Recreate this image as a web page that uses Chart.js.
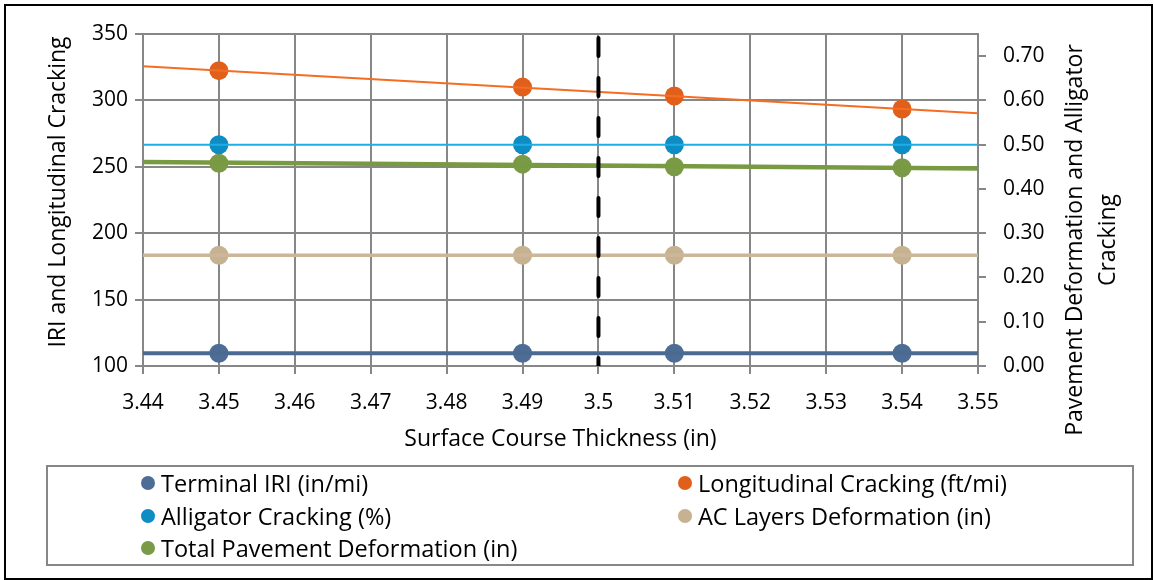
<!DOCTYPE html>
<html>
<head>
<meta charset="utf-8">
<script src="https://cdn.jsdelivr.net/npm/chart.js@4/dist/chart.umd.min.js"></script>
<style>
  html, body { margin: 0; padding: 0; background: #fff; }
  #wrap { position: relative; width: 1154px; height: 580px; overflow: hidden; font-family: "Open Sans", Lato, sans-serif; }
  #frame { position: absolute; left: 4px; top: 4px; width: 1145px; height: 572px; border: 2px solid #000; box-sizing: content-box; pointer-events: none; }
  #chart { position: absolute; left: 0; top: 0; }
  #legend { position: absolute; left: 46px; top: 465px; width: 1084px; height: 97px; border: 2px solid #878787; box-sizing: content-box; }
  .item { position: absolute; display: flex; align-items: center; height: 24px; font-size: 23.5px; color: #000; white-space: nowrap; line-height: 24px; }
  .dot { width: 14px; height: 14px; border-radius: 50%; margin-right: 6px; flex: none; }
</style>
</head>
<body>
<div id="wrap">
  <canvas id="chart" width="1154" height="580"></canvas>
  <div id="legend"></div>
  <div id="frame"></div>
</div>
<script>
// Surface course thickness (in) at which each run was made
const thickness = [3.45, 3.49, 3.51, 3.54];

// Predicted distresses per run
const terminalIRI = [109.6, 109.6, 109.6, 109.6];          // in/mi (left axis)
const longitudinalCracking = [322.4, 310.0, 303.3, 293.5]; // ft/mi (left axis)
const alligatorCracking = [0.50, 0.50, 0.50, 0.50];        // % (right axis)
const acLayersDeformation = [0.25, 0.25, 0.25, 0.25];      // in (right axis)
const totalDeformation = [0.458, 0.456, 0.450, 0.448];     // in (right axis)

// Linear trend lines, evaluated at the ends of the thickness axis
const trendX = [3.44, 3.55];
const iriTrend = [109.6, 109.6];
const longitudinalTrend = [325.8, 290.4];
const alligatorTrend = [0.50, 0.50];
const acTrend = [0.25, 0.25];
const totalTrend = [0.461, 0.446];

// Design thickness marker
const designThickness = 3.5;
const designMarkerRange = [347, 100];

// Axis settings
const xTicks = { min: 3.44, max: 3.55, step: 0.01 };
const leftTicks = { min: 100, max: 350, step: 50 };
const rightTicks = { min: 0, max: 0.75, step: 0.1 };

const seriesNames = [
  'Terminal IRI (in/mi)',
  'Longitudinal Cracking (ft/mi)',
  'Alligator Cracking (%)',
  'AC Layers Deformation (in)',
  'Total Pavement Deformation (in)'
];
const markerColors = ['#4E6D94', '#E0601B', '#0E8CC4', '#C6B291', '#7B9A48'];
const trendColors  = ['#4B6A91', '#F56D22', '#1DAEE6', '#CBB798', '#789A41'];
const trendWidths  = [4, 2, 2, 3.5, 4.5];

const pts = (xs, ys) => xs.map((x, i) => ({ x: x, y: ys[i] }));

const seriesValues = [terminalIRI, longitudinalCracking, alligatorCracking, acLayersDeformation, totalDeformation];
const trendValues = [iriTrend, longitudinalTrend, alligatorTrend, acTrend, totalTrend];
const seriesAxis = ['y', 'y', 'y2', 'y2', 'y2'];

const datasets = [];
// vertical dashed line at the design thickness (drawn on top)
datasets.push({
  label: 'design',
  data: pts([designThickness, designThickness], designMarkerRange),
  yAxisID: 'y',
  showLine: true,
  borderColor: '#000',
  borderWidth: 4,
  borderDash: [18, 22],
  borderCapStyle: 'round',
  pointRadius: 0,
  order: 0
});
seriesNames.forEach((name, i) => {
  datasets.push({
    label: name + ' trend',
    data: pts(trendX, trendValues[i]),
    yAxisID: seriesAxis[i],
    showLine: true,
    borderColor: trendColors[i],
    borderWidth: trendWidths[i],
    pointRadius: 0,
    order: 1 + i
  });
});
seriesNames.forEach((name, i) => {
  datasets.push({
    label: name,
    data: pts(thickness, seriesValues[i]),
    yAxisID: seriesAxis[i],
    showLine: false,
    backgroundColor: markerColors[i],
    borderWidth: 0,
    pointRadius: 9.5,
    pointHoverRadius: 9.5,
    order: 10 + i
  });
});

const FONT = '"Open Sans"';
const TICK_SIZE = 21;
const TITLE_SIZE = 23;
const gridColor = '#878787';

// Axis titles drawn by hand so the right one reads bottom-to-top
const axisTitles = {
  id: 'axisTitles',
  afterDraw(chart) {
    const ctx = chart.ctx;
    const a = chart.chartArea;
    ctx.save();
    ctx.fillStyle = '#000';
    ctx.font = TITLE_SIZE + 'px ' + FONT;
    ctx.textAlign = 'center';
    ctx.textBaseline = 'middle';
    ctx.fillText('Surface Course Thickness (in)', (a.left + a.right) / 2, 439);

    ctx.save();
    ctx.translate(58, 192);
    ctx.rotate(-Math.PI / 2);
    ctx.fillText('IRI and Longitudinal Cracking', 0, 0);
    ctx.restore();

    ctx.save();
    ctx.translate(1075, 240);
    ctx.rotate(-Math.PI / 2);
    ctx.fillText('Pavement Deformation and Alligator', 0, 0);
    ctx.fillText('Cracking', 0, 33);
    ctx.restore();
    ctx.restore();
  }
};

// keep the vertical scales from reserving extra space above/below the plot
const trimVerticalPadding = s => { s.paddingTop = 10; s.paddingBottom = 10; };

const chart = new Chart(document.getElementById('chart'), {
  type: 'scatter',
  data: { datasets: datasets },
  options: {
    responsive: false,
    animation: false,
    devicePixelRatio: 1,
    layout: { padding: { top: 34, left: 0, right: 0, bottom: 0 } },
    plugins: { legend: { display: false }, tooltip: { enabled: false } },
    scales: {
      x: {
        type: 'linear',
        position: 'bottom',
        min: xTicks.min, max: xTicks.max,
        ticks: {
          stepSize: xTicks.step,
          color: '#000',
          font: { family: FONT, size: TICK_SIZE },
          padding: 16,
          callback: v => String(Number(v.toFixed(2)))
        },
        grid: { color: gridColor, lineWidth: 2, tickLength: 8, drawTicks: true },
        border: { color: gridColor, width: 2 },
        afterFit(s) { s.height = 214; }
      },
      y: {
        type: 'linear',
        position: 'left',
        min: leftTicks.min, max: leftTicks.max,
        ticks: {
          stepSize: leftTicks.step,
          color: '#000',
          font: { family: FONT, size: TICK_SIZE },
          padding: 7
        },
        grid: { color: gridColor, lineWidth: 2, tickLength: 8 },
        border: { color: gridColor, width: 2 },
        afterFit(s) { s.width = 143; trimVerticalPadding(s); }
      },
      y2: {
        type: 'linear',
        position: 'right',
        min: rightTicks.min, max: rightTicks.max,
        ticks: {
          stepSize: rightTicks.step,
          includeBounds: false,
          color: '#000',
          font: { family: FONT, size: TICK_SIZE },
          padding: 17,
          callback: v => v.toFixed(2)
        },
        afterBuildTicks(s) { s.ticks = s.ticks.filter(t => t.value <= 0.7 + 1e-9); },
        grid: { drawOnChartArea: false, color: gridColor, lineWidth: 2, tickLength: 8 },
        border: { color: gridColor, width: 2 },
        afterFit(s) { s.width = 176; trimVerticalPadding(s); }
      }
    }
  },
  plugins: [axisTitles]
});

// Legend: series markers laid out row by row in two columns
const legend = document.getElementById('legend');
const colLeft = [93, 630];
const rowCenter = [16, 49, 81];
seriesNames.forEach((name, i) => {
  const el = document.createElement('div');
  el.className = 'item';
  el.style.left = colLeft[i % 2] + 'px';
  el.style.top = (rowCenter[Math.floor(i / 2)] - 12) + 'px';
  const dot = document.createElement('span');
  dot.className = 'dot';
  dot.style.background = markerColors[i];
  const txt = document.createElement('span');
  txt.textContent = name;
  el.appendChild(dot);
  el.appendChild(txt);
  legend.appendChild(el);
});
</script>
</body>
</html>
